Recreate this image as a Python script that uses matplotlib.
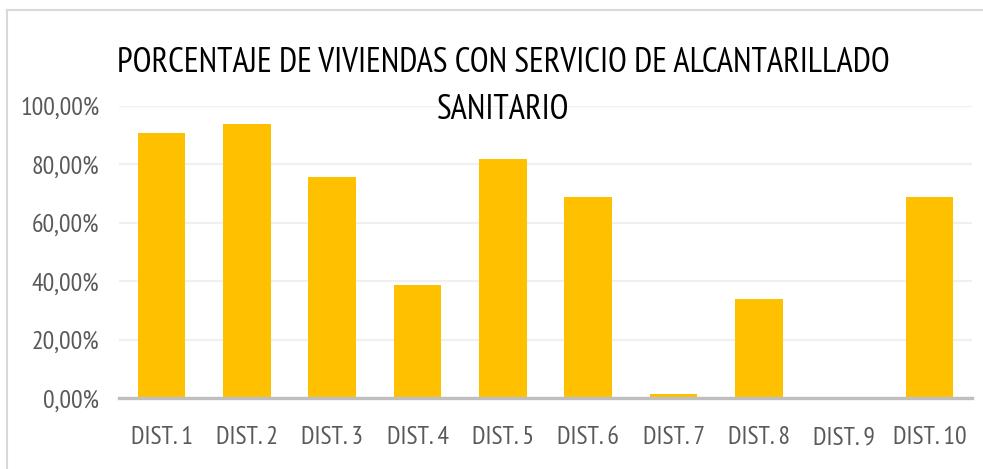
import matplotlib

matplotlib.use("Agg")
import matplotlib.pyplot as plt
from matplotlib.lines import Line2D
from matplotlib.ticker import FuncFormatter

# Share of dwellings with sewer service, per district
districts = ["DIST. 1", "DIST. 2", "DIST. 3", "DIST. 4", "DIST. 5",
             "DIST. 6", "DIST. 7", "DIST. 8", "DIST. 9", "DIST. 10"]
coverage = [0.907, 0.940, 0.757, 0.386, 0.817, 0.687, 0.015, 0.339, 0.0, 0.687]
y_ticks = [0.0, 0.2, 0.4, 0.6, 0.8, 1.0]

TITLE = "PORCENTAJE DE VIVIENDAS CON SERVICIO DE ALCANTARILLADO\nSANITARIO"
BAR_COLOR = "#FFC000"
LABEL_COLOR = "#595959"
FONT = ["PT Sans Narrow", "DejaVu Sans"]

plt.rcParams["font.family"] = FONT

fig = plt.figure(figsize=(9.83, 4.69), dpi=100)
ax = fig.add_axes([0.121, 0.1507, 0.868, 0.6233])

x = range(len(districts))
ax.bar(x, coverage, width=0.56, color=BAR_COLOR, zorder=2)

ax.set_xlim(-0.5, len(districts) - 0.5)
ax.set_ylim(0, 1.0)
ax.set_yticks(y_ticks)
ax.yaxis.set_major_formatter(
    FuncFormatter(lambda v, _: f"{v * 100:.2f}%".replace(".", ","))
)
ax.set_xticks(list(x))
ax.set_xticklabels(districts)

ax.grid(axis="y", color="#F0F0F0", linewidth=1.6, zorder=0)
ax.set_axisbelow(True)
for side in ("top", "right", "left"):
    ax.spines[side].set_visible(False)
ax.spines["bottom"].set_color("#BFBFBF")
ax.spines["bottom"].set_linewidth(2.4)
ax.spines["bottom"].set_zorder(3)

ax.tick_params(axis="both", length=0, labelsize=18.5, labelcolor=LABEL_COLOR)
ax.tick_params(axis="x", pad=20)
ax.tick_params(axis="y", pad=14)

fig.text(0.512, 0.816, TITLE, ha="center", va="center", fontsize=24.7,
         color="#000000", linespacing=1.58)

# chart frame: top and left edges
fig.add_artist(Line2D([0.007, 1.0], [0.978, 0.978], transform=fig.transFigure,
                      color="#D9D9D9", linewidth=1.5))
fig.add_artist(Line2D([0.007, 0.007], [0.0, 0.978], transform=fig.transFigure,
                      color="#D9D9D9", linewidth=1.5))

fig.savefig("out.png", dpi=100)
